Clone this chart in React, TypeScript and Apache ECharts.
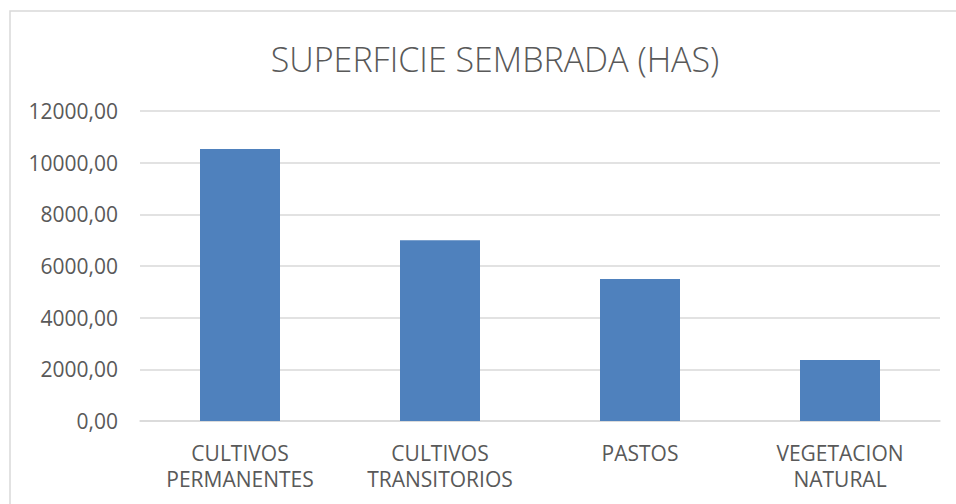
import React, { useEffect, useRef } from "react";
import * as echarts from "echarts";

const titleText = "SUPERFICIE SEMBRADA (HAS)";
const categories = ["CULTIVOS\nPERMANENTES", "CULTIVOS\nTRANSITORIOS", "PASTOS", "VEGETACION\nNATURAL"];
const values = [10530, 7000, 5500, 2360];
const yMin = 0;
const yMax = 12000;
const yInterval = 2000;

const FONT = "'Open Sans', 'Liberation Sans', sans-serif";
const TEXT = "#595959";

export default function App() {
  const ref = useRef<HTMLDivElement>(null);
  useEffect(() => {
    document.body.style.margin = "0";
    if (!ref.current) return;
    const chart = echarts.init(ref.current, undefined, { renderer: "svg" });
    chart.setOption({
      animation: false,
      backgroundColor: "#ffffff",
      title: {
        text: titleText,
        left: 490,
        top: 37,
        textAlign: "center",
        textStyle: { fontFamily: FONT, fontSize: 34, fontWeight: 300, color: TEXT },
      },
      graphic: [
        {
          type: "rect",
          shape: { x: 10, y: 11, width: 1000, height: 600 },
          style: { fill: "none", stroke: "#d9d9d9", lineWidth: 1.5 },
          silent: true,
        },
      ],
      grid: { left: 140, right: 16, top: 111, bottom: 83, containLabel: false },
      xAxis: {
        type: "category",
        data: categories,
        axisLine: { show: true, lineStyle: { color: "#d9d9d9", width: 1.5 } },
        axisTick: { show: false },
        axisLabel: {
          fontFamily: FONT,
          fontSize: 21,
          color: TEXT,
          margin: 19,
          lineHeight: 26,
          interval: 0,
        },
      },
      yAxis: {
        type: "value",
        min: yMin,
        max: yMax,
        interval: yInterval,
        axisLine: { show: false },
        axisTick: { show: false },
        splitLine: { lineStyle: { color: "#d9d9d9", width: 1.5 } },
        axisLabel: {
          fontFamily: FONT,
          fontSize: 21,
          color: TEXT,
          margin: 22,
          formatter: (v: number) => v.toFixed(2).replace(".", ","),
        },
      },
      series: [
        {
          type: "bar",
          data: values,
          barWidth: 80,
          itemStyle: { color: "#4F81BD" },
        },
      ],
    });
    return () => chart.dispose();
  }, []);
  return <div ref={ref} style={{ width: 956, height: 504 }} />;
}
